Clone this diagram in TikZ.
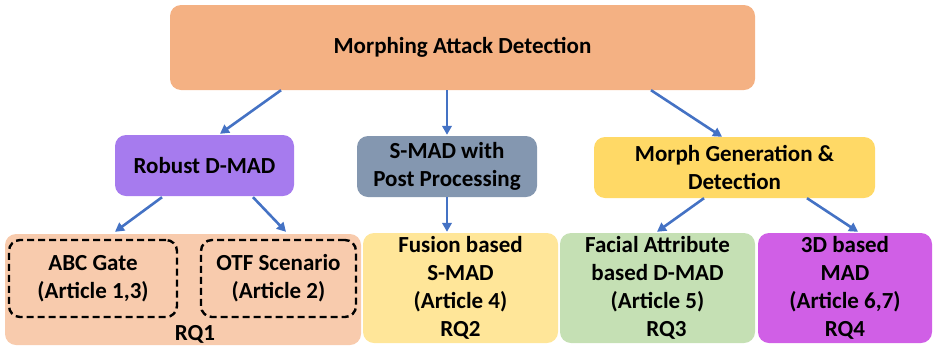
\documentclass[tikz,border=0pt]{standalone}
\usepackage{fontspec}
\setmainfont{Carlito}
\usetikzlibrary{arrows.meta,calc}
\definecolor{ctop}{HTML}{F4B183}
\definecolor{crob}{HTML}{A67BEE}
\definecolor{csmad}{HTML}{8497B0}
\definecolor{cmgen}{HTML}{FFD966}
\definecolor{crq1}{HTML}{F8CBAD}
\definecolor{cfus}{HTML}{FFE699}
\definecolor{cfac}{HTML}{C5E0B4}
\definecolor{cthree}{HTML}{D05FE6}
\definecolor{carrow}{HTML}{4472C4}
\tikzset{
  box/.style={rounded corners=11pt, inner sep=0pt, align=center,
    font=\fontsize{23}{28}\selectfont\bfseries},
  dbox/.style={box, draw=black, line width=2.4pt, dash pattern=on 7pt off 4pt},
  conn/.style={draw=carrow, line width=2.6pt, -{Triangle[length=9pt,width=9.5pt]}},
  lbl/.style={inner sep=0pt, font=\fontsize{23}{28}\selectfont\bfseries}
}
\begin{document}
\begin{tikzpicture}[x=1pt,y=-1pt]
\useasboundingbox (0,0) rectangle (933,346);
% top
\node[box, fill=ctop, minimum width=585pt, minimum height=85pt] (top) at (462.5,47.5) {Morphing Attack Detection};
% middle row
\node[box, fill=crob, minimum width=179pt, minimum height=61pt] (rob) at (204.5,165.5) {Robust D-MAD};
\node[box, fill=csmad, minimum width=180pt, minimum height=61pt] (smad) at (447,166.5) {S-MAD with\\Post Processing};
\node[box, fill=cmgen, minimum width=281pt, minimum height=61pt] (mgen) at (734.5,167.5) {Morph Generation \&\\Detection};
% bottom row
\node[box, fill=crq1, minimum width=356pt, minimum height=111pt] (rq1) at (183,289.5) {};
\node[dbox, minimum width=168pt, minimum height=77pt] (abc) at (93,278.5) {ABC Gate\\(Article 1,3)};
\node[dbox, minimum width=155pt, minimum height=77pt] (otf) at (278.5,278.5) {OTF Scenario\\(Article 2)};
\node[lbl] (rq1lbl) at (195,334) {RQ1};
\node[box, fill=cfus, minimum width=195pt, minimum height=110pt] (fus) at (460.5,288) {Fusion based\\S-MAD\\(Article 4)\\RQ2};
\node[box, fill=cfac, minimum width=195pt, minimum height=110pt] (fac) at (657.5,288) {Facial Attribute\\based D-MAD\\(Article 5)\\\hspace*{18pt}RQ3};
\node[box, fill=cthree, minimum width=174pt, minimum height=110pt] (three) at (845,288) {3D based\\MAD\\(Article 6,7)\\RQ4};
% connectors
\draw[conn] ($(top.south)+(-181.5,0)$) -- ($(rob.north)+(15.5,-1)$);
\draw[conn] (smad.north |- top.south) -- ($(smad.north)+(0,-1)$);
\draw[conn] ($(top.south)+(188.5,0)$) -- ($(mgen.north)+(-12.5,0)$);
\draw[conn] ($(rob.south)+(-42.5,1)$) -- ($(abc.north)+(22,-7)$);
\draw[conn] ($(rob.south)+(48.5,1)$) -- ($(otf.north)+(7.5,-7)$);
\draw[conn] (smad.south) -- ($(smad.south |- fus.north)+(0,-1)$);
\draw[conn] ($(mgen.south)+(-30.5,0)$) -- ($(fac.north)+(-0.5,-1)$);
\draw[conn] ($(mgen.south)+(72.5,0)$) -- ($(three.north)+(13,-1)$);
\end{tikzpicture}
\end{document}
